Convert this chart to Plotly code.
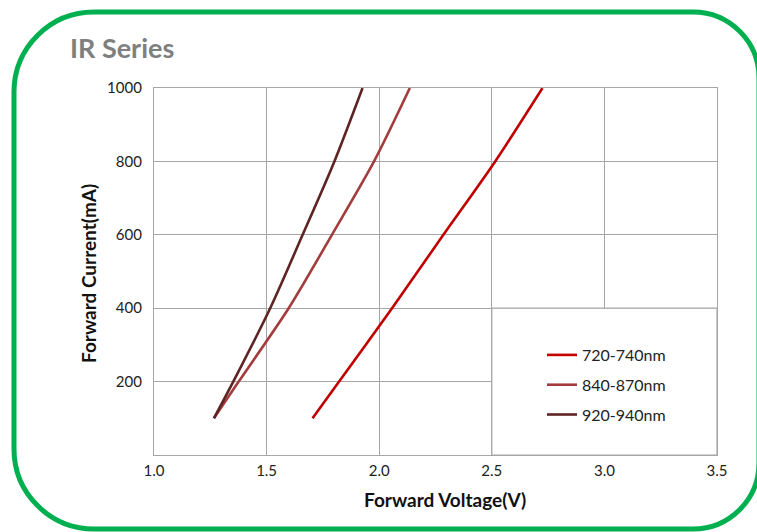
import plotly.graph_objects as go

# ---- data ----
current_ma = [100, 200, 400, 600, 800, 1000]
voltage_720_740 = [1.704, 1.822, 2.057, 2.285, 2.515, 2.725]
voltage_840_870 = [1.266, 1.376, 1.598, 1.790, 1.977, 2.136]
voltage_920_940 = [1.266, 1.352, 1.516, 1.660, 1.801, 1.926]
series_names = ["720-740nm", "840-870nm", "920-940nm"]
series_colors = ["#C00000", "#A33C3C", "#5E2424"]
x_ticks = [1.0, 1.5, 2.0, 2.5, 3.0, 3.5]
y_ticks = [200, 400, 600, 800, 1000]

W, H = 757, 532
ML, MR, MT, MB = 154, 40, 88, 77
PW, PH = W - ML - MR, H - MT - MB


def px(X):
    return (X - ML) / PW


def py(Y):
    return (H - MB - Y) / PH


FONT = "Lato, 'Open Sans', sans-serif"

fig = go.Figure()
for name, volts, col in zip(series_names,
                            [voltage_720_740, voltage_840_870, voltage_920_940],
                            series_colors):
    fig.add_trace(go.Scatter(
        x=volts, y=current_ma, name=name, mode="lines",
        line=dict(color=col, width=2.6, shape="spline", smoothing=0.8),
        legendgroup=name,
    ))

# rounded green frame (paper coordinates derived from pixel positions)
L, R, T, B = 14, 759, 12, 529
rl, rr = 80, 66
k = 0.5523


def P(X, Y):
    return f"{px(X):.5f},{py(Y):.5f}"


path = (
    f"M {P(L + rl, T)} L {P(R - rr, T)} "
    f"C {P(R - rr + k * rr, T)} {P(R, T + rr - k * rr)} {P(R, T + rr)} "
    f"L {P(R, B - rr)} "
    f"C {P(R, B - rr + k * rr)} {P(R - rr + k * rr, B)} {P(R - rr, B)} "
    f"L {P(L + rl, B)} "
    f"C {P(L + rl - k * rl, B)} {P(L, B - rl + k * rl)} {P(L, B - rl)} "
    f"L {P(L, T + rl)} "
    f"C {P(L, T + rl - k * rl)} {P(L + rl - k * rl, T)} {P(L + rl, T)} Z"
)
fig.add_shape(type="path", path=path, xref="paper", yref="paper",
              line=dict(color="#00B050", width=5), layer="above")

# legend box covering the lower-right grid cells
fig.add_shape(type="rect", xref="x", yref="y", x0=2.5, x1=3.5, y0=0, y1=400,
              fillcolor="white", line=dict(color="#A6A6A6", width=1.2),
              layer="above")

fig.add_annotation(text="IR Series", xref="paper", yref="paper",
                   x=px(68), y=py(47), xanchor="left", yanchor="middle",
                   showarrow=False,
                   font=dict(family=FONT, size=27, color="#7F7F7F", weight="bold"))
fig.add_annotation(text="Forward Current(mA)", xref="paper", yref="paper",
                   x=px(88), y=py(274), textangle=-90, showarrow=False,
                   xanchor="center", yanchor="middle",
                   font=dict(family=FONT, size=19, color="#111111", weight="bold"))
fig.add_annotation(text="Forward Voltage(V)", xref="paper", yref="paper",
                   x=px(445), y=py(499), showarrow=False,
                   xanchor="center", yanchor="middle",
                   font=dict(family=FONT, size=19, color="#111111", weight="bold"))

fig.update_xaxes(range=[1.0, 3.5], tickvals=x_ticks,
                 ticktext=[f"{v:.1f}" for v in x_ticks],
                 showgrid=True, gridcolor="#A6A6A6", gridwidth=1.2,
                 showline=True, linecolor="#A6A6A6", linewidth=1.2, mirror=True,
                 zeroline=False, ticks="", ticklabelstandoff=2,
                 tickfont=dict(family=FONT, size=15, color="#222222"))
fig.update_yaxes(range=[0, 1000], tickvals=y_ticks,
                 showgrid=True, gridcolor="#A6A6A6", gridwidth=1.2,
                 showline=True, linecolor="#A6A6A6", linewidth=1.2, mirror=True,
                 zeroline=False, ticks="", ticklabelstandoff=8,
                 tickfont=dict(family=FONT, size=15, color="#222222"))

fig.update_layout(
    width=W, height=H, autosize=False,
    margin=dict(l=ML, r=MR, t=MT, b=MB),
    paper_bgcolor="white", plot_bgcolor="white",
    showlegend=True,
    legend=dict(x=px(542), y=py(338), xanchor="left", yanchor="top",
                bgcolor="rgba(0,0,0,0)", borderwidth=0,
                tracegroupgap=6, itemwidth=30,
                font=dict(family=FONT, size=16, color="#222222")),
)

fig.write_html("out.html", config={"displayModeBar": False},
               post_script="document.body.style.margin='0';")
